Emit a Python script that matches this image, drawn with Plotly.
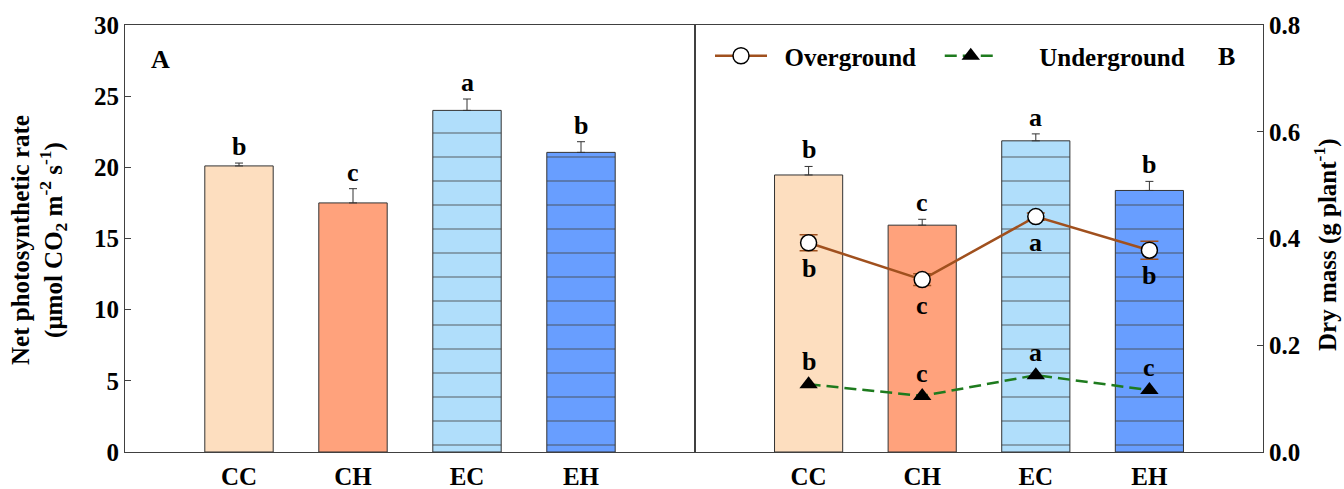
import plotly.graph_objects as go

# ---------------- data ----------------
categories = ["CC", "CH", "EC", "EH"]
xpos = [1, 2, 3, 4]

# Panel A: net photosynthetic rate
pn_mean = [20.1, 17.5, 24.0, 21.05]
pn_se = [0.2, 1.0, 0.8, 0.75]
pn_letters = ["b", "c", "a", "b"]

# Panel B: total dry mass (bars)
dm_total = [0.519, 0.425, 0.583, 0.490]
dm_total_se = [0.016, 0.011, 0.013, 0.017]
dm_total_letters = ["b", "c", "a", "b"]

# Panel B: overground / underground dry mass (lines)
dm_over = [0.392, 0.323, 0.441, 0.378]
dm_over_se = [0.015, 0.011, 0.007, 0.017]
dm_over_letters = ["b", "c", "a", "b"]

dm_under = [0.127, 0.105, 0.144, 0.116]
dm_under_letters = ["b", "c", "a", "c"]

bar_colors = ["#FDDEBF", "#FFA27C", "#B0DEFB", "#689EFF"]
bar_patterns = ["", "", "-", "-"]

FONT = "Liberation Serif, Times New Roman, serif"
W, H = 1344, 489
L, MID, R = 125, 695, 1263
TOP, BOT = 25, 452
NB = "\u00a0"

fig = go.Figure()

zeros = [0, 0, 0, 0]
pattern = dict(shape=bar_patterns, fgcolor="#000000", bgcolor=bar_colors,
               size=24, solidity=0.07, fillmode="overlay")

fig.add_trace(go.Bar(
    x=xpos, y=pn_mean, width=0.6,
    marker=dict(color=bar_colors, line=dict(color="#333333", width=1), pattern=pattern),
    error_y=dict(type="data", array=pn_se, arrayminus=zeros, symmetric=False,
                 color="#333333", thickness=1, width=4),
    showlegend=False, xaxis="x", yaxis="y"))

fig.add_trace(go.Bar(
    x=xpos, y=dm_total, width=0.6,
    marker=dict(color=bar_colors, line=dict(color="#333333", width=1), pattern=pattern),
    error_y=dict(type="data", array=dm_total_se, arrayminus=zeros, symmetric=False,
                 color="#333333", thickness=1, width=4),
    showlegend=False, xaxis="x2", yaxis="y2"))

fig.add_trace(go.Scatter(
    x=xpos, y=dm_over, mode="lines+markers", name=NB * 2 + "Overground" + NB * 3,
    line=dict(color="#A0501E", width=2.5),
    marker=dict(symbol="circle", size=16, color="white", line=dict(color="black", width=1.5)),
    error_y=dict(type="data", array=dm_over_se, color="#A0501E", thickness=1.5, width=9),
    xaxis="x2", yaxis="y2"))

fig.add_trace(go.Scatter(
    x=xpos, y=dm_under, mode="lines+markers", name=NB * 6 + "Underground",
    line=dict(color="#1E7B1E", width=2.5, dash="12px,6px"),
    marker=dict(symbol="triangle-up", size=16, color="black"),
    xaxis="x2", yaxis="y2"))

LF = 26
annotations = []
for xi, m, s, t in zip(xpos, pn_mean, pn_se, pn_letters):
    annotations.append(dict(x=xi, y=m + s, xref="x", yref="y", text=t, showarrow=False,
                            yanchor="bottom", xanchor="center", font=dict(size=LF)))
for xi, m, s, t in zip(xpos, dm_total, dm_total_se, dm_total_letters):
    annotations.append(dict(x=xi, y=m + s, xref="x2", yref="y2", text=t, showarrow=False,
                            yanchor="bottom", xanchor="center", font=dict(size=LF)))
for xi, m, s, t in zip(xpos, dm_over, dm_over_se, dm_over_letters):
    annotations.append(dict(x=xi, y=m, xref="x2", yref="y2", text=t, showarrow=False,
                            yanchor="top", xanchor="center", yshift=-9, font=dict(size=LF)))
for xi, m, t in zip(xpos, dm_under, dm_under_letters):
    annotations.append(dict(x=xi, y=m, xref="x2", yref="y2", text=t, showarrow=False,
                            yanchor="bottom", xanchor="center", yshift=6, font=dict(size=LF)))

# panel labels
annotations.append(dict(x=160 / W, y=1 - 59 / H, xref="paper", yref="paper", text="A",
                        showarrow=False, xanchor="center", yanchor="middle", font=dict(size=26)))
annotations.append(dict(x=1226 / W, y=1 - 56 / H, xref="paper", yref="paper", text="B",
                        showarrow=False, xanchor="center", yanchor="middle", font=dict(size=26)))
# axis titles
annotations.append(dict(x=39 / W, y=1 - 240 / H, xref="paper", yref="paper",
                        text="Net photosynthetic rate<br>(μmol CO<sub>2</sub> m<sup>-2</sup> s<sup>-1</sup>)",
                        textangle=-90, showarrow=False, xanchor="center", yanchor="middle",
                        font=dict(size=25)))
annotations.append(dict(x=1325 / W, y=1 - 245 / H, xref="paper", yref="paper",
                        text="Dry mass (g plant<sup>-1</sup>)",
                        textangle=-90, showarrow=False, xanchor="center", yanchor="middle",
                        font=dict(size=25)))

line_col = "#404040"
ydom = [(H - BOT) / H, (H - TOP) / H]
TF = 25

fig.update_layout(
    width=W, height=H,
    margin=dict(l=0, r=0, t=0, b=0, autoexpand=False),
    paper_bgcolor="white", plot_bgcolor="white",
    font=dict(family=FONT, size=24, color="black", weight="bold"),
    barmode="overlay",
    xaxis=dict(domain=[L / W, MID / W], range=[0, 5], anchor="y", automargin=False,
               tickvals=xpos, ticktext=categories, ticks="", ticklabelstandoff=2,
               showline=True, linecolor=line_col, linewidth=1.2, mirror=True,
               showgrid=False, zeroline=False, tickfont=dict(size=TF)),
    yaxis=dict(domain=ydom, range=[0, 30], anchor="x", dtick=5, ticks="inside", ticklen=6,
               automargin=False,
               tickcolor=line_col, showline=True, linecolor=line_col, linewidth=1.2, mirror=True,
               showgrid=False, zeroline=False, tickfont=dict(size=TF)),
    xaxis2=dict(domain=[MID / W, R / W], range=[0, 5], anchor="y2", automargin=False,
                tickvals=xpos, ticktext=categories, ticks="", ticklabelstandoff=2,
                showline=True, linecolor=line_col, linewidth=1.2, mirror=True,
                showgrid=False, zeroline=False, tickfont=dict(size=TF)),
    yaxis2=dict(domain=ydom, range=[0, 0.8], anchor="x2", side="right", dtick=0.2,
                automargin=False,
                tickformat=".1f", ticks="inside", ticklen=6, tickcolor=line_col,
                showline=True, linecolor=line_col, linewidth=1.2, mirror=True,
                showgrid=False, zeroline=False, tickfont=dict(size=TF)),
    legend=dict(orientation="h", x=710 / W, y=1 - 56 / H, xanchor="left", yanchor="middle",
                bgcolor="rgba(0,0,0,0)", font=dict(size=25), itemwidth=52),
    annotations=annotations,
)

fig.write_html("out.html")
